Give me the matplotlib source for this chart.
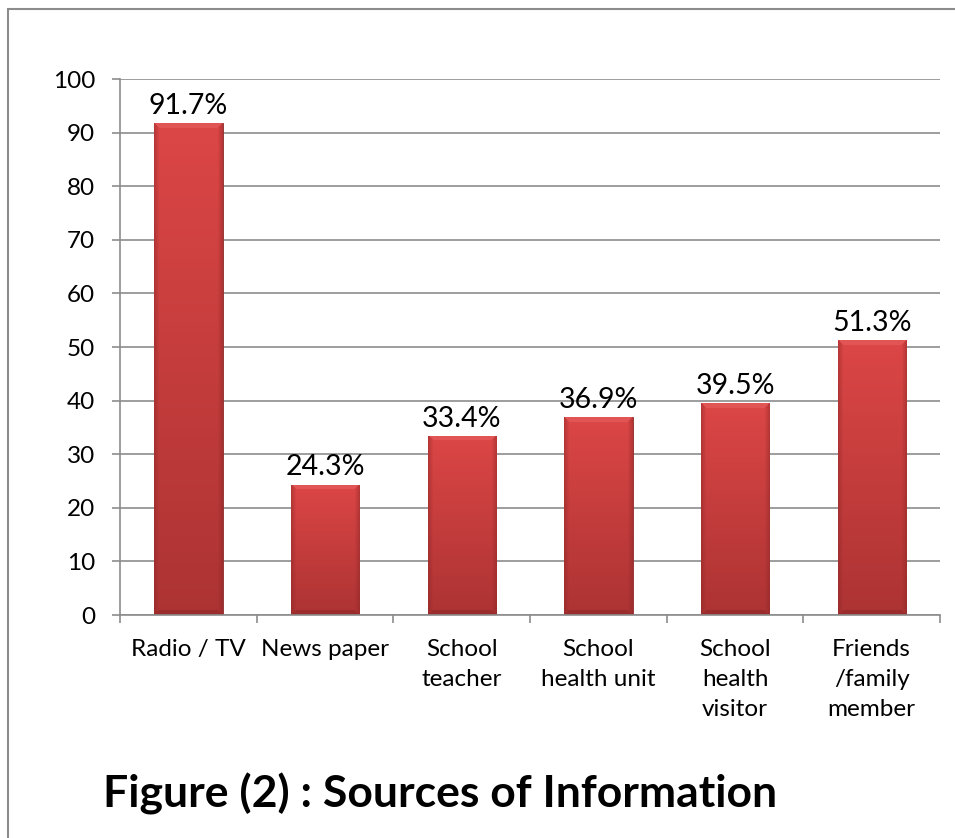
import matplotlib
matplotlib.use("Agg")
import matplotlib.pyplot as plt
import numpy as np
from matplotlib.colors import to_rgb
from matplotlib.patches import Rectangle

categories = ["Radio / TV", "News paper", "School\nteacher", "School\nhealth unit",
              "School\nhealth\nvisitor", "Friends\n/family\nmember"]
values = [91.7, 24.3, 33.4, 36.9, 39.5, 51.3]
labels = ["91.7%", "24.3%", "33.4%", "36.9%", "39.5%", "51.3%"]
yticks = [0, 10, 20, 30, 40, 50, 60, 70, 80, 90, 100]

plt.rcParams['font.family'] = ['Lato', 'DejaVu Sans']

W, H = 955, 838
fig = plt.figure(figsize=(W / 100, H / 100), dpi=100)
fig.patch.set_facecolor("white")

# outer frame
fig.add_artist(Rectangle((8 / W, -0.05), 1.2, (H - 9) / H + 0.05, transform=fig.transFigure,
                         fill=False, edgecolor="#8c8c8c", linewidth=1.5))

left, right = 120 / W, 940 / W
bottom, top = 1 - 615 / H, 1 - 79 / H
ax = fig.add_axes([left, bottom, right - left, top - bottom])

x = np.arange(len(categories))
ax.set_xlim(-0.5, len(categories) - 0.5)
ax.set_ylim(0, 100)

bars = ax.bar(x, values, width=0.5, color="#c83a3a", edgecolor="#8e2a2a", linewidth=0.6, zorder=2)

c_top = np.array(to_rgb("#dc4646"))
c_bot = np.array(to_rgb("#ad3333"))
c_dark = np.array(to_rgb("#8a2525"))
c_light = np.array(to_rgb("#e66060"))
px_per_unit = (615 - 79) / 100.0
bw = 5.0
for b in bars:
    x0, y0 = b.get_x(), b.get_y()
    w, h = b.get_width(), b.get_height()
    ny = max(int(h * px_per_unit), 10)
    nx = 69
    yy = np.linspace(0, 1, ny)[:, None]
    base = c_bot[None, None, :] + (c_top - c_bot)[None, None, :] * yy[..., None]
    img = np.repeat(base, nx, axis=1)
    xi = np.arange(nx)[None, :]
    yi = np.arange(ny)[:, None]
    dl = xi + 0 * yi
    dr = (nx - 1 - xi) + 0 * yi
    dtop = (ny - 1 - yi) + 0 * xi
    dbot = yi + 0 * xi
    side = np.minimum(dl, dr)
    mside = (side < bw) & (side <= dtop) & (side <= dbot)
    f = (1 - side / bw)[..., None] * 0.45
    img = np.where(mside[..., None], img * (1 - f) + c_dark * f, img)
    mtop = (dtop < bw) & (dtop < side)
    img = np.where(mtop[..., None], img * 0.4 + c_light * 0.6, img)
    mbot = (dbot < bw) & (dbot < side)
    img = np.where(mbot[..., None], img * 0.5 + c_dark * 0.5, img)
    im = ax.imshow(img, extent=[x0, x0 + w, y0, y0 + h], origin="lower",
                   aspect="auto", zorder=2.5, interpolation="bilinear")
    im.set_clip_path(b)
ax.set_xlim(-0.5, len(categories) - 0.5)
ax.set_ylim(0, 100)

for xi_, v, lab in zip(x, values, labels):
    ax.text(xi_, v + 0.8, lab, ha="center", va="bottom", fontsize=20.5, color="black", zorder=4)

ax.set_yticks(yticks)
ax.set_yticklabels([str(t) for t in yticks], fontsize=17.5)
ax.yaxis.grid(True, color="#8c8c8c", linewidth=1.2, zorder=0)
ax.set_axisbelow(True)

ax.set_xticks(np.arange(-0.5, len(categories), 1.0))
ax.set_xticklabels([])
ax.set_xticks(x, minor=True)
ax.set_xticklabels(categories, minor=True, fontsize=17.5, linespacing=1.55, va="top")
ax.tick_params(axis="x", which="minor", length=0, pad=17)
ax.tick_params(axis="x", which="major", length=6, color="#8c8c8c", width=1.2)
ax.tick_params(axis="y", length=6, color="#8c8c8c", width=1.2, pad=12)

for s in ["top", "right"]:
    ax.spines[s].set_visible(False)
for s in ["left", "bottom"]:
    ax.spines[s].set_color("#8c8c8c")
    ax.spines[s].set_linewidth(1.2)

fig.text(440 / W, 1 - 794 / H, "Figure (2) : Sources of Information", ha="center", va="center",
         fontsize=32, fontweight="bold")

fig.savefig("out.png", dpi=100)
